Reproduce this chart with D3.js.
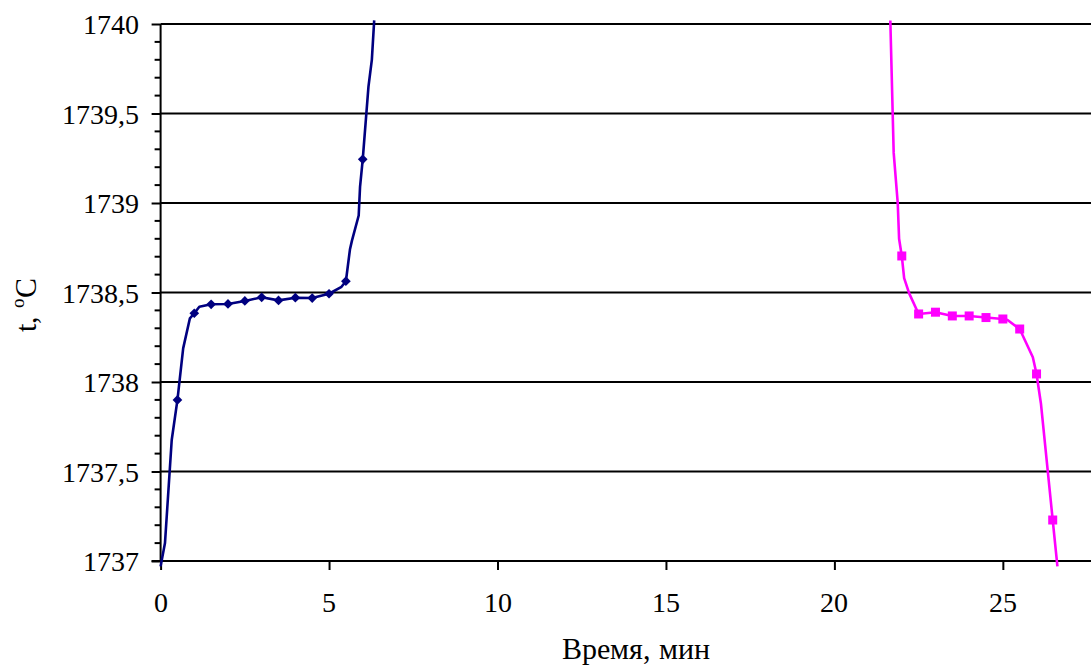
<!DOCTYPE html>
<html><head><meta charset="utf-8">
<style>
  @font-face { font-family: "ChartSerif"; src: local("Liberation Serif"), local("LiberationSerif"), local("LiberationSerif-Regular"), local("Times New Roman"), local("Tinos"); font-weight: normal; font-style: normal; }
  body { margin: 0; font-family: "ChartSerif", "Liberation Serif", "Times New Roman", Tinos, FreeSerif, monospace; }
  svg text { font-family: "ChartSerif", "Liberation Serif", "Times New Roman", Tinos, FreeSerif, monospace; }
</style>
<script src="https://cdn.jsdelivr.net/npm/d3@7"></script></head>
<body>
<svg id="chart" width="1091" height="666"></svg>
<script>
// ---- data ----
const blueTime = [0, 0.13, 0.33, 0.5, 0.67, 0.87, 1.0, 1.15, 1.5, 2, 2.5, 3, 3.5, 4, 4.5, 5, 5.37, 5.5, 5.62, 5.68, 5.88, 5.92, 6.0, 6.17, 6.27, 6.34];
const blueTemp = [1736.97, 1737.10, 1737.676, 1737.90, 1738.188, 1738.356, 1738.384, 1738.42, 1738.434, 1738.436, 1738.453, 1738.473, 1738.456, 1738.471, 1738.469, 1738.493, 1738.532, 1738.563, 1738.74, 1738.79, 1738.93, 1739.09, 1739.244, 1739.65, 1739.80, 1740.02];
const blueMarkers = [3, 6, 8, 9, 10, 11, 12, 13, 14, 15, 17, 22];

const pinkTime = [21.66, 21.73, 21.76, 21.88, 21.92, 22.0, 22.07, 22.22, 22.5, 23.0, 23.5, 24.0, 24.5, 25.0, 25.14, 25.5, 25.89, 26.0, 26.13, 26.48, 26.62];
const pinkTemp = [1740.02, 1739.50, 1739.28, 1739.0, 1738.80, 1738.704, 1738.58, 1738.495, 1738.38, 1738.39, 1738.369, 1738.369, 1738.36, 1738.352, 1738.346, 1738.296, 1738.138, 1738.045, 1737.88, 1737.229, 1736.97];
const pinkMarkers = [5, 8, 9, 10, 11, 12, 13, 15, 17, 19];

const xTicks = [0, 5, 10, 15, 20, 25];
const yMajorTicks = [1737, 1737.5, 1738, 1738.5, 1739, 1739.5, 1740];
const yMinorTicks = [1737.1,1737.2,1737.3,1737.4,1737.6,1737.7,1737.8,1737.9,1738.1,1738.2,1738.3,1738.4,1738.6,1738.7,1738.8,1738.9,1739.1,1739.2,1739.3,1739.4,1739.6,1739.7,1739.8,1739.9];
const xTitle = "Время, мин";

// ---- layout ----
const FONT = '"ChartSerif", "Liberation Serif", "Times New Roman", Tinos, FreeSerif, monospace';
const svg = d3.select("#chart");
const plotLeft = 160.6, plotTop = 24, plotBottom = 561;
const x = d3.scaleLinear().domain([0, 30]).range([plotLeft, plotLeft + 30 * 33.69]);
const y = d3.scaleLinear().domain([1737, 1740]).range([plotBottom, plotTop]);
const fmt = d => String(d).replace(".", ",");

// gridlines
svg.append("g").selectAll("line").data(yMajorTicks.filter(d => d > 1737)).join("line")
  .attr("x1", plotLeft).attr("x2", 1091 + 100)
  .attr("y1", d => y(d)).attr("y2", d => y(d))
  .attr("stroke", "#000").attr("stroke-width", 2);

// y axis (lines via d3 axis, labels as plain text)
const yAxis = svg.append("g").attr("transform", `translate(${plotLeft},0)`)
  .call(d3.axisLeft(y).tickValues(yMajorTicks).tickSize(9).tickSizeOuter(0).tickFormat(""));
yAxis.attr("font-family", null);
yAxis.select(".domain").attr("stroke-width", 2).attr("d", `M0,${plotTop}V${plotBottom}`);
yAxis.selectAll(".tick line").attr("stroke-width", 2);
yAxis.selectAll(".tick text").remove();
svg.append("g").selectAll("line").data(yMinorTicks).join("line")
  .attr("x1", plotLeft - 6).attr("x2", plotLeft)
  .attr("y1", d => y(d)).attr("y2", d => y(d))
  .attr("stroke", "#000").attr("stroke-width", 2);
svg.selectAll("text.ylab").data(yMajorTicks).join("text").attr("class", "ylab")
  .attr("x", plotLeft - 22).attr("y", d => y(d) + 10)
  .attr("text-anchor", "end").attr("font-family", FONT)
  .attr("font-size", 28).attr("fill", "#000").text(fmt);

// x axis
const xAxis = svg.append("g").attr("transform", `translate(0,${plotBottom})`)
  .call(d3.axisBottom(x).tickValues(xTicks).tickSize(9).tickSizeOuter(0).tickFormat(""));
xAxis.attr("font-family", null);
xAxis.select(".domain").attr("stroke-width", 2).attr("d", `M${plotLeft - 9},0H${1091 + 100}`);
xAxis.selectAll(".tick line").attr("stroke-width", 2);
xAxis.selectAll(".tick text").remove();
svg.selectAll("text.xlab").data(xTicks).join("text").attr("class", "xlab")
  .attr("x", d => x(d)).attr("y", plotBottom + 51)
  .attr("text-anchor", "middle").attr("font-family", FONT)
  .attr("font-size", 28).attr("fill", "#000").text(d => d);

// axis titles
svg.append("text").attr("x", 636).attr("y", 659).attr("text-anchor", "middle")
  .attr("font-family", FONT).attr("font-size", 30).text(xTitle);
const yt = svg.append("text").attr("transform", "translate(36,305) rotate(-90)")
  .attr("text-anchor", "middle").attr("font-family", FONT).attr("font-size", 30);
yt.append("tspan").text("t, ");
yt.append("tspan").attr("font-size", 19).attr("dy", -12).text("o");
yt.append("tspan").attr("dy", 12).text("C");

// series
const line = d3.line().x(d => x(d[0])).y(d => y(d[1]));
const blue = blueTime.map((t, i) => [t, blueTemp[i]]);
const pink = pinkTime.map((t, i) => [t, pinkTemp[i]]);

svg.append("path").datum(blue).attr("d", line).attr("fill", "none")
  .attr("stroke", "#000080").attr("stroke-width", 2.6).attr("stroke-linejoin", "round");
svg.append("path").datum(pink).attr("d", line).attr("fill", "none")
  .attr("stroke", "#FF00FF").attr("stroke-width", 2.6).attr("stroke-linejoin", "round");

svg.append("g").selectAll("path").data(blueMarkers.map(i => blue[i])).join("path")
  .attr("transform", d => `translate(${x(d[0])},${y(d[1])})`)
  .attr("d", d3.symbol(d3.symbolDiamond2, 60)())
  .attr("fill", "#000080");
svg.append("g").selectAll("rect").data(pinkMarkers.map(i => pink[i])).join("rect")
  .attr("x", d => x(d[0]) - 4.5).attr("y", d => y(d[1]) - 4.5)
  .attr("width", 9).attr("height", 9).attr("fill", "#FF00FF");
</script>
</body>
</html>
